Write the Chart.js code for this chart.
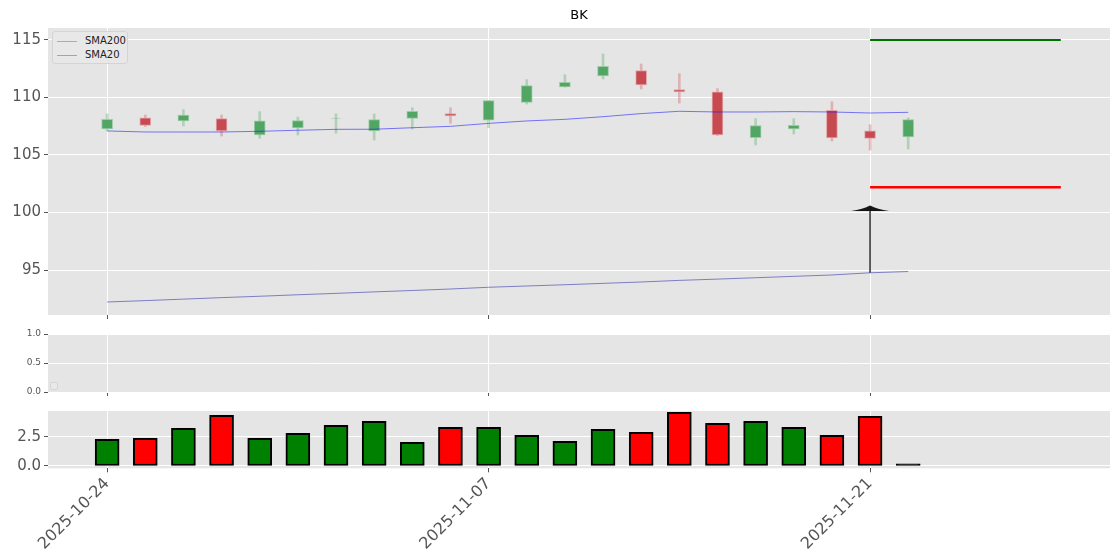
<!DOCTYPE html>
<html><head><meta charset="utf-8">
<script src="https://cdn.jsdelivr.net/npm/chart.js@4/dist/chart.umd.min.js"></script>
<style>
body{margin:0;background:#fff;width:1120px;height:560px;position:relative;overflow:hidden;font-family:"DejaVu Sans",sans-serif;}
canvas{position:absolute;left:0;}
#legend{position:absolute;left:52px;top:31px;width:74px;height:31px;background:#e8e8e8;border:1px solid #d4d4d4;border-radius:3px;font-size:10px;color:#222;}
#legend .row{position:absolute;left:0;height:12px;line-height:12px;}
#legend .sw{position:absolute;left:4px;top:6px;width:20px;height:0;border-top:1.5px solid;}
#legend .tx{position:absolute;left:32px;top:0;white-space:nowrap;}
#legend2{position:absolute;left:50px;top:382px;width:6px;height:6px;background:#e9e9e9;border:1px solid #d6d6d6;border-radius:2px;}
</style></head><body>
<canvas id="c1" width="1120" height="322" style="top:0"></canvas>
<canvas id="c2" width="1120" height="78" style="top:322px"></canvas>
<canvas id="c3" width="1120" height="160" style="top:400px"></canvas>
<div id="legend">
  <div class="row" style="top:3px"><span class="sw" style="border-color:rgba(60,60,170,0.38)"></span><span class="tx">SMA200</span></div>
  <div class="row" style="top:17px"><span class="sw" style="border-color:rgba(40,40,255,0.4)"></span><span class="tx">SMA20</span></div>
</div>
<div id="legend2"></div>
<script>
const chartTitle = 'BK';
const dates = ['2025-10-24','2025-10-27','2025-10-28','2025-10-29','2025-10-30','2025-10-31','2025-11-03','2025-11-04','2025-11-05','2025-11-06','2025-11-07','2025-11-10','2025-11-11','2025-11-12','2025-11-13','2025-11-14','2025-11-17','2025-11-18','2025-11-19','2025-11-20','2025-11-21','2025-11-24'];
const openP  = [107.26,108.24,107.96,108.16,106.74,107.35,108.07,107.10,108.19,108.59,108.02,109.58,110.91,111.87,112.33,110.68,110.50,106.50,107.26,108.89,107.09,106.57];
const highP  = [108.57,108.48,108.94,108.48,108.77,108.30,108.57,108.57,109.11,109.11,109.75,111.55,111.98,113.78,112.91,112.07,110.77,108.16,108.16,109.63,107.63,108.22];
const lowP   = [107.10,107.46,107.52,106.65,106.45,106.74,106.89,106.30,107.26,107.76,107.37,109.43,110.90,111.61,110.74,109.52,106.70,105.87,106.83,106.22,105.43,105.52];
const closeP = [108.10,107.58,108.48,107.09,107.98,108.00,108.07,108.08,108.80,108.39,109.72,111.03,111.32,112.71,111.09,110.48,106.74,107.55,107.57,106.48,106.45,108.07];
const sma20  = [107.09,107.00,107.00,107.00,107.06,107.15,107.23,107.24,107.37,107.49,107.75,107.96,108.10,108.33,108.60,108.80,108.74,108.74,108.77,108.74,108.65,108.71];
const sma200 = [92.22,92.34,92.47,92.60,92.72,92.85,92.97,93.10,93.22,93.35,93.50,93.61,93.72,93.84,93.96,94.10,94.21,94.33,94.45,94.57,94.76,94.87];
const volume = [2.27,2.36,3.21,4.32,2.36,2.79,3.47,3.81,2.02,3.30,3.30,2.62,2.10,3.13,2.87,4.58,3.64,3.81,3.30,2.62,4.24,0.18];
const priceTicks = [95,100,105,110,115];
const midTicks = [0,0.5,1];
const volTicks = [0,2.5];
const xTickIdx = [0,10,20];
const targetHigh = 115.0, targetLow = 102.2, targetFrom = 20, targetTo = 25;
const arrowIdx = 20, arrowTop = 100.6;

Chart.defaults.font.family = 'DejaVu Sans';
Chart.defaults.animation = false;

const X_MIN = -1.55, X_MAX = 26.29;
const GREEN = 'rgb(82,166,100)', RED = 'rgb(199,74,80)';
const GREEN_W = 'rgba(60,160,80,0.3)', RED_W = 'rgba(200,60,70,0.3)';

const bg = {id:'bg', beforeDraw(c){const a=c.chartArea,x=c.ctx;x.save();x.fillStyle='#e5e5e5';x.fillRect(a.left,a.top,a.right-a.left,a.bottom-a.top);x.restore();}};

function xScale(h, showLabels){
  return {type:'linear', min:X_MIN, max:X_MAX, offset:false,
    afterFit(s){s.height=h; s.paddingLeft=0; s.paddingRight=0;},
    afterBuildTicks(s){s.ticks=xTickIdx.map(v=>({value:v}));},
    grid:{offset:false, color:'#ffffff', lineWidth:1, tickColor:'#555', tickLength:4, drawTicks:true},
    border:{display:false},
    ticks:{display:showLabels, color:'#555', font:{size:16}, minRotation:45, maxRotation:45, padding:2,
      callback:(v)=>dates[v]!==undefined?dates[v]:''}};
}
function yScale(min,max,ticks,fs,fmt){
  return {min:min, max:max,
    afterFit(s){s.width=48; s.paddingTop=0; s.paddingBottom=0;},
    afterBuildTicks(s){s.ticks=ticks.map(v=>({value:v}));},
    grid:{color:'#ffffff', lineWidth:1, tickColor:'#555', tickLength:4},
    border:{display:false},
    ticks:{color:'#555', font:{size:fs}, padding:3, callback:fmt}};
}

const titlePlugin = {id:'ttl', afterDraw(c){const a=c.chartArea,x=c.ctx;x.save();x.fillStyle='#000';x.font='13px "DejaVu Sans"';x.textAlign='center';x.textBaseline='middle';x.fillText(chartTitle,(a.left+a.right)/2,16);x.restore();}};
const arrowPlugin = {id:'arrow', afterDatasetsDraw(c){
  const xs=c.scales.x, ys=c.scales.y, ctx=c.ctx;
  const px=xs.getPixelForValue(arrowIdx), y0=ys.getPixelForValue(sma200[arrowIdx]), y1=ys.getPixelForValue(arrowTop);
  ctx.save();
  ctx.strokeStyle='#111'; ctx.lineWidth=1.3;
  ctx.beginPath(); ctx.moveTo(px,y0); ctx.lineTo(px,y1+4); ctx.stroke();
  ctx.fillStyle='#151515';
  ctx.beginPath(); ctx.moveTo(px,y1);
  ctx.quadraticCurveTo(px-7,y1+3.5,px-19,y1+5.5);
  ctx.lineTo(px+19,y1+5.5);
  ctx.quadraticCurveTo(px+7,y1+3.5,px,y1);
  ctx.closePath(); ctx.fill();
  ctx.restore();
}};

const candleColor = dates.map((d,i)=> closeP[i]>openP[i]?GREEN:(closeP[i]<openP[i]?RED:GREEN_W));
const wickColor = dates.map((d,i)=> closeP[i]>=openP[i]?GREEN_W:RED_W);
const bodyBorder = dates.map((d,i)=> closeP[i]>openP[i]?'rgba(150,200,160,0.9)':(closeP[i]<openP[i]?'rgba(225,160,165,0.9)':'rgba(0,0,0,0)'));

new Chart(document.getElementById('c1'), {
  type:'bar',
  data:{datasets:[
    {type:'line', data:sma20.map((v,i)=>({x:i,y:v})), borderColor:'rgba(20,20,255,0.55)', borderWidth:1, pointRadius:0, tension:0},
    {type:'line', data:sma200.map((v,i)=>({x:i,y:v})), borderColor:'rgba(40,40,170,0.55)', borderWidth:1, pointRadius:0, tension:0},
    {type:'line', data:[{x:targetFrom,y:targetHigh},{x:targetTo,y:targetHigh}], borderColor:'#007000', borderWidth:2, pointRadius:0},
    {type:'line', data:[{x:targetFrom,y:targetLow},{x:targetTo,y:targetLow}], borderColor:'#ff0000', borderWidth:2.5, pointRadius:0},
    {type:'bar', data:dates.map((d,i)=>({x:i,y:[openP[i],closeP[i]]})), backgroundColor:candleColor, borderColor:bodyBorder, borderWidth:1, borderSkipped:false, barThickness:11, minBarLength:2, grouped:false},
    {type:'bar', data:dates.map((d,i)=>({x:i,y:[lowP[i],highP[i]]})), backgroundColor:wickColor, borderWidth:0, barThickness:2, grouped:false}
  ]},
  options:{responsive:false, animation:false,
    layout:{padding:{top:28,left:0,right:10,bottom:0}},
    plugins:{legend:{display:false}, tooltip:{enabled:false}},
    scales:{x:xScale(7,false), y:yScale(91.09,116.04,priceTicks,15,(v)=>String(v))}
  },
  plugins:[bg,titlePlugin,arrowPlugin]
});

new Chart(document.getElementById('c2'), {
  type:'line',
  data:{datasets:[]},
  options:{responsive:false, animation:false,
    layout:{padding:{top:12,left:0,right:10,bottom:0}},
    plugins:{legend:{display:false}, tooltip:{enabled:false}},
    scales:{x:xScale(8,false), y:yScale(0,1,midTicks,9,(v)=>v.toFixed(1))}
  },
  plugins:[bg]
});

const volColor = volume.map((v,i)=> i===volume.length-1?'#000000':(i===0||closeP[i]>=closeP[i-1]?'#008000':'#ff0000'));
new Chart(document.getElementById('c3'), {
  type:'bar',
  data:{datasets:[
    {data:volume.map((v,i)=>({x:i,y:v})), backgroundColor:volColor, borderColor:'#000', borderWidth:2, borderSkipped:false, barThickness:24, grouped:false}
  ]},
  options:{responsive:false, animation:false,
    layout:{padding:{top:11,left:0,right:10,bottom:0}},
    plugins:{legend:{display:false}, tooltip:{enabled:false}},
    scales:{x:xScale(91.7,true), y:yScale(-0.2,4.69,volTicks,15,(v)=>v.toFixed(1))}
  },
  plugins:[bg]
});
</script>
</body></html>
